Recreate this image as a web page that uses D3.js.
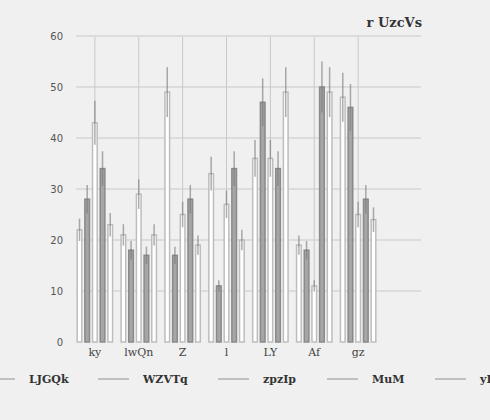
<!DOCTYPE html>
<html><head><meta charset="utf-8">
<script src="https://cdn.jsdelivr.net/npm/d3@7"></script>
<style>body{margin:0;background:#f0f0f0}svg{display:block}</style></head>
<body><svg id="c" width="490" height="420"></svg>
<script>
const categories=["ky","lwQn","Z","l","LY","Af","gz"];
const seriesNames=["LJGQk","WZVTq","zpzIp","MuM","yI"];
const s1=[22,21,49,33,36,19,48];
const s2=[28,18,17,11,47,18,46];
const s3=[43,29,25,27,36,11,25];
const s4=[34,17,28,34,34,50,28];
const s5=[23,21,19,20,49,49,24];
const e1=[2.2,2.1,4.9,3.3,3.6,1.9,4.8];
const e2=[2.8,1.8,1.7,1.1,4.7,1.8,4.6];
const e3=[4.3,2.9,2.5,2.7,3.6,1.1,2.5];
const e4=[3.4,1.7,2.8,3.4,3.4,5,2.8];
const e5=[2.3,2.1,1.9,2.0,4.9,4.9,2.4];
const yTicks=[0,10,20,30,40,50,60];
const values=[s1,s2,s3,s4,s5], errs=[e1,e2,e3,e4,e5];
const fills=["#ffffff","#a6a6a6","#ffffff","#a6a6a6","#ffffff"];
const strokes=["#bdbdbd","#8a8a8a","#bdbdbd","#8a8a8a","#bdbdbd"];
const svg=d3.select("#c");
const x=d3.scaleBand().domain(categories).range([76,377]).paddingInner(0.16).paddingOuter(0.01);
const xs=d3.scaleBand().domain(d3.range(5)).range([0,x.bandwidth()]).paddingInner(0.2);
const y=d3.scaleLinear().domain([0,60]).range([342,36]);
const g=svg.append("g");
yTicks.forEach(t=>{ if(t>0) g.append("line").attr("x1",76).attr("x2",421).attr("y1",y(t)).attr("y2",y(t)).attr("stroke","#c8c8c8");
 g.append("text").attr("x",63).attr("y",y(t)+4).attr("text-anchor","end").attr("font-family","DejaVu Sans").attr("font-size",10).attr("fill","#555").text(t);});
categories.forEach(c=>g.append("line").attr("x1",x(c)+x.bandwidth()/2).attr("x2",x(c)+x.bandwidth()/2).attr("y1",37).attr("y2",342).attr("stroke","#c8c8c8"));
values.forEach((vals,i)=>{
 categories.forEach((c,j)=>{
  const bx=x(c)+xs(i), w=xs.bandwidth();
  g.append("rect").attr("x",bx+0.75).attr("y",y(vals[j])).attr("width",w-1.5).attr("height",y(0)-y(vals[j])).attr("fill",fills[i]).attr("stroke",strokes[i]).attr("stroke-width",1.5);
  g.append("line").attr("x1",bx+w/2).attr("x2",bx+w/2).attr("y1",y(vals[j]+errs[i][j])).attr("y2",y(vals[j]-errs[i][j])).attr("stroke","#777").attr("stroke-opacity",0.6).attr("stroke-width",1.5);
 });
});
categories.forEach(c=>g.append("text").attr("x",x(c)+x.bandwidth()/2).attr("y",356).attr("text-anchor","middle").attr("font-family","DejaVu Serif").attr("font-size",11).attr("fill","#444").text(c));
svg.append("text").attr("x",422).attr("y",27).attr("text-anchor","end").attr("font-family","DejaVu Serif").attr("font-weight","bold").attr("font-size",13).attr("fill","#333").text("r UzcVs");
const lx=[-16,98,218,327,435];
seriesNames.forEach((n,i)=>{
 svg.append("line").attr("x1",lx[i]).attr("x2",lx[i]+31).attr("y1",379).attr("y2",379).attr("stroke","#b0b0b0").attr("stroke-width",1.5);
 svg.append("text").attr("x",lx[i]+45).attr("y",383).attr("font-family","DejaVu Serif").attr("font-weight","bold").attr("font-size",11).attr("fill","#333").text(n);
});
</script></body></html>
